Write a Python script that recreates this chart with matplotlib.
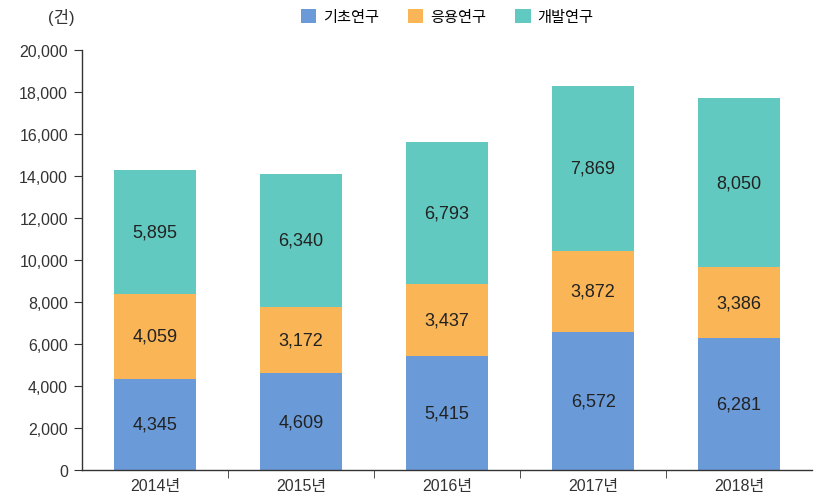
import matplotlib.pyplot as plt
import numpy as np

plt.rcParams['font.family'] = ['Liberation Sans', 'Noto Sans CJK KR', 'DejaVu Sans']

# data
years = ['2014년', '2015년', '2016년', '2017년', '2018년']
basic = [4345, 4609, 5415, 6572, 6281]
applied = [4059, 3172, 3437, 3872, 3386]
develop = [5895, 6340, 6793, 7869, 8050]
series_names = ['기초연구', '응용연구', '개발연구']
colors = ['#6a9bd8', '#f9b556', '#62c9c1']

fig = plt.figure(figsize=(8.25, 5.02), dpi=100)
ax = fig.add_axes([0.0994, 0.0618, 0.885, 0.836])

x = np.arange(len(years))
bottom = np.zeros(len(years))
handles = []
for vals, name, c in zip([basic, applied, develop], series_names, colors):
    bars = ax.bar(x, vals, width=0.56, bottom=bottom, color=c, label=name)
    handles.append(bars)
    for xi, b, v in zip(x, bottom, vals):
        ax.text(xi, b + v / 2, f'{v:,}', ha='center', va='center',
                fontsize=13, color='#222222')
    bottom += np.array(vals)

ax.set_xlim(-0.5, 4.5)
ax.set_ylim(0, 20000)
ax.set_yticks(range(0, 20001, 2000))
ax.set_yticklabels([f'{v:,}' for v in range(0, 20001, 2000)])
ax.set_xticks(x)
ax.set_xticklabels(years)
ax.set_xticks(x[:-1] + 0.5, minor=True)
ax.tick_params(axis='x', which='major', length=0, labelsize=11.5, pad=6, colors='#333333')
ax.tick_params(axis='x', which='minor', length=6, direction='out', color='#333333')
ax.tick_params(axis='y', length=6, labelsize=11.5, colors='#333333', pad=4)

for s in ['top', 'right']:
    ax.spines[s].set_visible(False)
for s in ['left', 'bottom']:
    ax.spines[s].set_color('#333333')
    ax.spines[s].set_linewidth(1.0)

fig.text(0.058, 0.965, '(건)', fontsize=12, color='#333333', ha='left', va='center')

fig.legend(handles=handles, labels=series_names, loc='center', bbox_to_anchor=(0.542, 0.965),
           ncol=3, frameon=False, fontsize=11, handlelength=1.0, handleheight=1.0,
           columnspacing=1.9, handletextpad=0.45)

fig.savefig('out.png', dpi=100)
